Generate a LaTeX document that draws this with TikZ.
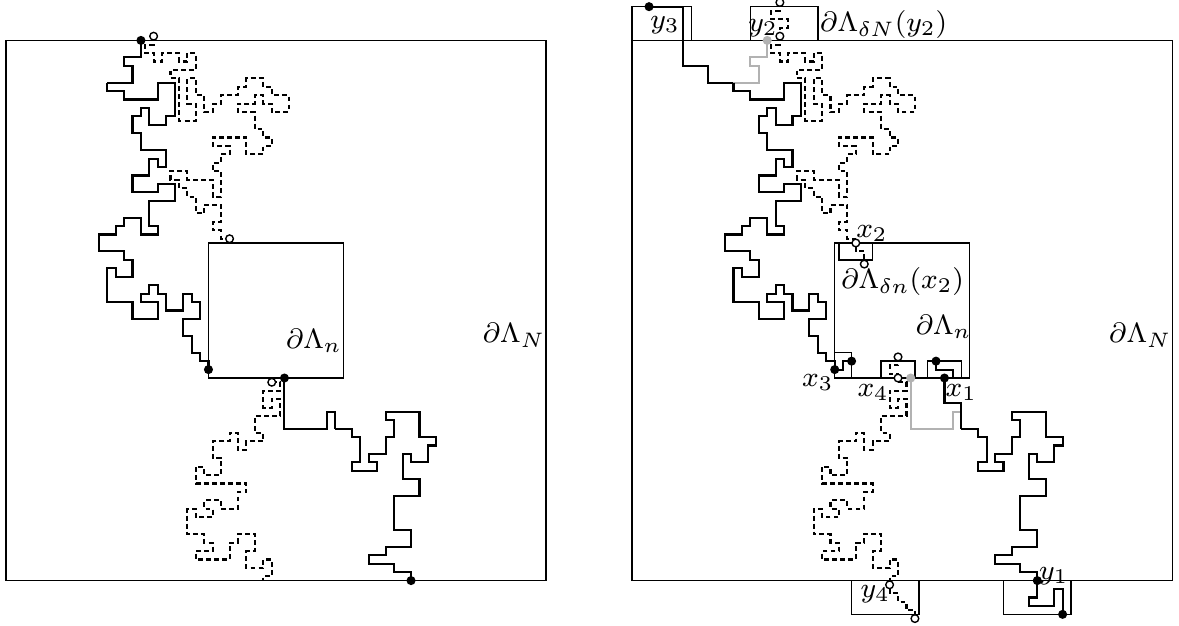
\documentclass[tikz,border=0pt]{standalone}
\usepackage{amsmath}
\usepackage{amssymb}
\usepackage{tikz}

% primal walk from the top, first steps (grey on the right)
\newcommand{\primUpA}{(-16,32) -- (-16,30) -- (-18,30) -- (-18,29) -- (-17,29) -- (-17,27) -- (-20,27)}
% primal walk from the top, rest
\newcommand{\primUpB}{(-20,27) -- (-20,26) -- (-18,26) -- (-18,25) -- (-14,25) -- (-14,27) -- (-12,27) -- (-12,23) -- (-13,23) -- (-13,22) -- (-15,22) -- (-15,24) -- (-16,24) -- (-16,23) -- (-17,23) -- (-17,21) -- (-16,21) -- (-16,19) -- (-13,19) -- (-13,17) -- (-14,17) -- (-14,18) -- (-15,18) -- (-15,16) -- (-17,16) -- (-17,14) -- (-14,14) -- (-14,15) -- (-12,15) -- (-12,13) -- (-15,13) -- (-15,10) -- (-14,10) -- (-14,9) -- (-16,9) -- (-16,11) -- (-18,11) -- (-18,10) -- (-19,10) -- (-19,9) -- (-21,9) -- (-21,7) -- (-18,7) -- (-18,6) -- (-17,6) -- (-17,4) -- (-19,4) -- (-19,5) -- (-20,5) -- (-20,1) -- (-17,1) -- (-17,-1) -- (-14,-1) -- (-14,1) -- (-16,1) -- (-16,2) -- (-15,2) -- (-15,3) -- (-14,3) -- (-14,2) -- (-13,2) -- (-13,0) -- (-11,0) -- (-11,2) -- (-10,2) -- (-10,1) -- (-9,1) -- (-9,-1) -- (-11,-1) -- (-11,-3) -- (-10,-3) -- (-10,-5) -- (-9,-5) -- (-9,-6) -- (-8,-6) -- (-8,-7)}
% primal walk to the bottom, first steps (grey on the right)
\newcommand{\primDownA}{(1,-8) -- (1,-14) -- (6,-14) -- (6,-12) -- (7,-12) -- (7,-14)}
% primal walk to the bottom, rest
\newcommand{\primDownB}{(7,-14) -- (9,-14) -- (9,-15) -- (10,-15) -- (10,-18) -- (9,-18) -- (9,-19) -- (12,-19) -- (12,-18) -- (11,-18) -- (11,-17) -- (13,-17) -- (13,-15) -- (14,-15) -- (14,-13) -- (13,-13) -- (13,-12) -- (17,-12) -- (17,-15) -- (19,-15) -- (19,-16) -- (18,-16) -- (18,-18) -- (16,-18) -- (16,-17) -- (15,-17) -- (15,-20) -- (17,-20) -- (17,-22) -- (14,-22) -- (14,-26) -- (16,-26) -- (16,-28) -- (13,-28) -- (13,-29) -- (11,-29) -- (11,-30) -- (14,-30) -- (14,-31) -- (16,-31) -- (16,-32)}
% dual walk from the top
\newcommand{\dualUp}{(-14.5,32.5) -- (-14.5,31.5) -- (-15.5,31.5) -- (-15.5,30.5) -- (-14.5,30.5) -- (-14.5,29.5) -- (-13.5,29.5) -- (-13.5,30.5) -- (-11.5,30.5) -- (-11.5,29.5) -- (-10.5,29.5) -- (-10.5,30.5) -- (-9.5,30.5) -- (-9.5,28.5) -- (-12.5,28.5) -- (-12.5,27.5) -- (-11.5,27.5) -- (-11.5,22.5) -- (-9.5,22.5) -- (-9.5,24.5) -- (-10.5,24.5) -- (-10.5,27.5) -- (-9.5,27.5) -- (-9.5,25.5) -- (-8.5,25.5) -- (-8.5,23.5) -- (-7.5,23.5) -- (-7.5,24.5) -- (-6.5,24.5) -- (-6.5,25.5) -- (-4.5,25.5) -- (-4.5,26.5) -- (-3.5,26.5) -- (-3.5,27.5) -- (-1.5,27.5) -- (-1.5,26.5) -- (-0.5,26.5) -- (-0.5,25.5) -- (1.5,25.5) -- (1.5,23.5) -- (-0.5,23.5) -- (-0.5,24.5) -- (-1.5,24.5) -- (-1.5,25.5) -- (-2.5,25.5) -- (-2.5,24.5) -- (-4.5,24.5) -- (-4.5,23.5) -- (-2.5,23.5) -- (-2.5,21.5) -- (-1.5,21.5) -- (-1.5,20.5) -- (-0.5,20.5) -- (-0.5,19.5) -- (-1.5,19.5) -- (-1.5,18.5) -- (-3.5,18.5) -- (-3.5,20.5) -- (-7.5,20.5) -- (-7.5,19.5) -- (-5.5,19.5) -- (-5.5,18.5) -- (-6.5,18.5) -- (-6.5,17.5) -- (-7.5,17.5) -- (-7.5,16.5) -- (-6.5,16.5) -- (-6.5,13.5) -- (-7.5,13.5) -- (-7.5,15.5) -- (-10.5,15.5) -- (-10.5,16.5) -- (-12.5,16.5) -- (-12.5,15.5) -- (-11.5,15.5) -- (-11.5,14.5) -- (-10.5,14.5) -- (-10.5,13.5) -- (-9.5,13.5) -- (-9.5,11.5) -- (-8.5,11.5) -- (-8.5,12.5) -- (-6.5,12.5) -- (-6.5,10.5) -- (-7.5,10.5) -- (-7.5,9.5) -- (-6.5,9.5) -- (-6.5,8.5) -- (-5.5,8.5)}
% dual walk to the bottom
\newcommand{\dualDown}{(-0.5,-8.5) -- (0.5,-8.5) -- (0.5,-9.5) -- (-1.5,-9.5) -- (-1.5,-11.5) -- (-0.5,-11.5) -- (-0.5,-10.5) -- (0.5,-10.5) -- (0.5,-12.5) -- (-2.5,-12.5) -- (-2.5,-14.5) -- (-1.5,-14.5) -- (-1.5,-15.5) -- (-3.5,-15.5) -- (-3.5,-16.5) -- (-4.5,-16.5) -- (-4.5,-14.5) -- (-5.5,-14.5) -- (-5.5,-15.5) -- (-7.5,-15.5) -- (-7.5,-17.5) -- (-6.5,-17.5) -- (-6.5,-19.5) -- (-8.5,-19.5) -- (-8.5,-18.5) -- (-9.5,-18.5) -- (-9.5,-20.5) -- (-3.5,-20.5) -- (-3.5,-21.5) -- (-4.5,-21.5) -- (-4.5,-23.5) -- (-6.5,-23.5) -- (-6.5,-22.5) -- (-8.5,-22.5) -- (-8.5,-23.5) -- (-7.5,-23.5) -- (-7.5,-24.5) -- (-9.5,-24.5) -- (-9.5,-23.5) -- (-10.5,-23.5) -- (-10.5,-26.5) -- (-8.5,-26.5) -- (-8.5,-27.5) -- (-7.5,-27.5) -- (-7.5,-28.5) -- (-9.5,-28.5) -- (-9.5,-29.5) -- (-5.5,-29.5) -- (-5.5,-27.5) -- (-4.5,-27.5) -- (-4.5,-26.5) -- (-2.5,-26.5) -- (-2.5,-28.5) -- (-3.5,-28.5) -- (-3.5,-30.5) -- (-1.5,-30.5) -- (-1.5,-29.5) -- (-0.5,-29.5) -- (-0.5,-31.5) -- (-1.5,-31.5) -- (-1.5,-32)}

\begin{document}
\begin{tikzpicture}[x=0.085cm,y=0.085cm]
\tikzset{
  every node/.style={font=\fontsize{8}{9.5}\selectfont},
  frame/.style={line width=0.4pt},
  walk/.style={line width=0.6pt},
  dualwalk/.style={walk, dash pattern=on 1.4pt off 0.9pt},
  oldwalk/.style={walk, black!30},
  bdot/.style={circle, fill=black, inner sep=0pt, minimum size=2.6pt},
  gdot/.style={circle, fill=black!30, inner sep=0pt, minimum size=2.6pt},
  wdot/.style={circle, draw=black, fill=white, line width=0.4pt, inner sep=0pt, minimum size=2.2pt},
  lab/.style={inner sep=0pt}
}
\useasboundingbox (-32.7,-37.38) rectangle (106.99,36.79);

% ---------------- left picture ----------------
\draw[frame] (-32,-32) rectangle (32,32);
\draw[frame] (-8,-8) rectangle (8,8);

% Walks
\draw[walk] \primUpA;
\draw[walk] \primUpB;
\draw[walk] \primDownA;
\draw[walk] \primDownB;
\draw[dualwalk] \dualUp;
\draw[dualwalk] \dualDown;

% Dots
\node[bdot] (La) at (-16,32) {};
\node[wdot] (Lb) at (-14.5,32.5) {};
\node[wdot] (Lc) at (-5.5,8.5) {};
\node[bdot] (Ld) at (-8,-7) {};
\node[wdot] (Le) at (-0.5,-8.5) {};
\node[bdot] (Lf) at (1,-8) {};
\node[bdot] (Lg) at (16,-32) {};

% Labels
\node[lab] (Ln) at (4.5,-3.6) {$\partial\Lambda_n$};
\node[lab] (LN) at (28.2,-2.9) {$\partial\Lambda_N$};

% ---------------- right picture ----------------
\begin{scope}[shift={(74.2,0)}]
\draw[frame] (-32,-32) rectangle (32,32);
\draw[frame] (-8,-8) rectangle (8,8);

% small boxes
\draw[frame] (-32,32) -- (-32,36) -- (-25,36) -- (-25,32);
\draw[frame] (-18,32) -- (-18,36) -- (-10,36) -- (-10,32);
\draw[frame] (12,-32) -- (12,-36) -- (20,-36) -- (20,-32);
\draw[frame] (-6,-32) -- (-6,-36) -- (2,-36) -- (2,-32);
\draw[frame] (-7.5,8) -- (-7.5,6) -- (-3.5,6) -- (-3.5,8);
\draw[frame] (-8,-5) -- (-6,-5) -- (-6,-8);
\draw[frame] (-2.5,-8) -- (-2.5,-6) -- (1.5,-6) -- (1.5,-8);
\draw[frame] (3,-8) -- (3,-6) -- (7,-6) -- (7,-8);

% old pieces
\draw[oldwalk] \primUpA;
\draw[oldwalk] \primDownA;

% Walks
\draw[walk] (-30,36) -- (-26,36) -- (-26,29) -- (-23,29) -- (-23,27) -- (-20,27);
\draw[walk] \primUpB;
\draw[walk] (-8,-7) -- (-7,-7) -- (-7,-6) -- (-6,-6);
\draw[walk] (4,-6) -- (4,-7) -- (6,-7) -- (6,-8) -- (5,-8);
\draw[walk] (5,-8) -- (5,-11) -- (7,-11) -- (7,-14);
\draw[walk] \primDownB;
\draw[walk] (16,-32) -- (16,-34) -- (15,-34) -- (15,-35) -- (18,-35) -- (18,-33) -- (19,-33) -- (19,-36);
\draw[dualwalk] (-14.5,36.5) -- (-14.5,35.5) -- (-15.5,35.5) -- (-15.5,34.5) -- (-13.5,34.5) -- (-13.5,33.5) -- (-14.5,33.5) -- (-14.5,32.5);
\draw[dualwalk] \dualUp;
\draw[dualwalk] (-5.5,8.5) -- (-5.5,7) -- (-4.5,7) -- (-4.5,5.5);
\draw[dualwalk] (-0.5,-5.5) -- (-0.5,-6.5) -- (-1.5,-6.5) -- (-1.5,-7.5) -- (-0.5,-7.5) -- (-0.5,-8.5);
\draw[dualwalk] \dualDown;
\draw[dualwalk] (-1.5,-32) -- (-1.5,-33.5) -- (-0.5,-33.5) -- (-0.5,-34.5) -- (0.5,-34.5) -- (0.5,-35.5) -- (1.5,-35.5) -- (1.5,-36.5);

% Dots
\node[bdot] (y3) at (-30,36) {};
\node[gdot] (y2) at (-16,32) {};
\node[wdot] (y2a) at (-14.5,36.5) {};
\node[wdot] (y2b) at (-14.5,32.5) {};
\node[wdot] (x2) at (-5.5,8) {};
\node[wdot] (x2a) at (-4.5,5.5) {};
\node[bdot] (x3) at (-8,-7) {};
\node[bdot] (x3a) at (-6,-6) {};
\node[wdot] (x4a) at (-0.5,-5.5) {};
\node[wdot] (x4) at (-0.5,-8) {};
\node[gdot] (old) at (1,-8) {};
\node[bdot] (x1a) at (4,-6) {};
\node[bdot] (x1) at (5,-8) {};
\node[bdot] (y1) at (16,-32) {};
\node[bdot] (y1a) at (19,-36) {};
\node[wdot] (y4) at (-1.5,-32.5) {};
\node[wdot] (y4a) at (1.5,-36.5) {};

% Labels
\node[lab] (ly3) at (-28.1,33.8) {$y_3$};
\node[lab] (ly2) at (-16.5,33.4) {$y_2$};
\node[lab, anchor=west] (lbig) at (-9.8,33.9) {$\partial\Lambda_{\delta N}(y_2)$};
\node[lab] (lx2) at (-3.6,9.15) {$x_2$};
\node[lab, anchor=west] (lsmall) at (-7.3,3.4) {$\partial\Lambda_{\delta n}(x_2)$};
\node[lab] (Rn) at (4.9,-1.95) {$\partial\Lambda_n$};
\node[lab] (RN) at (28.2,-2.9) {$\partial\Lambda_N$};
\node[lab] (lx3) at (-10,-8.5) {$x_3$};
\node[lab] (lx4) at (-3.45,-9.7) {$x_4$};
\node[lab] (lx1) at (7,-9.7) {$x_1$};
\node[lab] (ly1) at (17.95,-31.5) {$y_1$};
\node[lab] (ly4) at (-3.2,-33.6) {$y_4$};
\end{scope}
\end{tikzpicture}
\end{document}
